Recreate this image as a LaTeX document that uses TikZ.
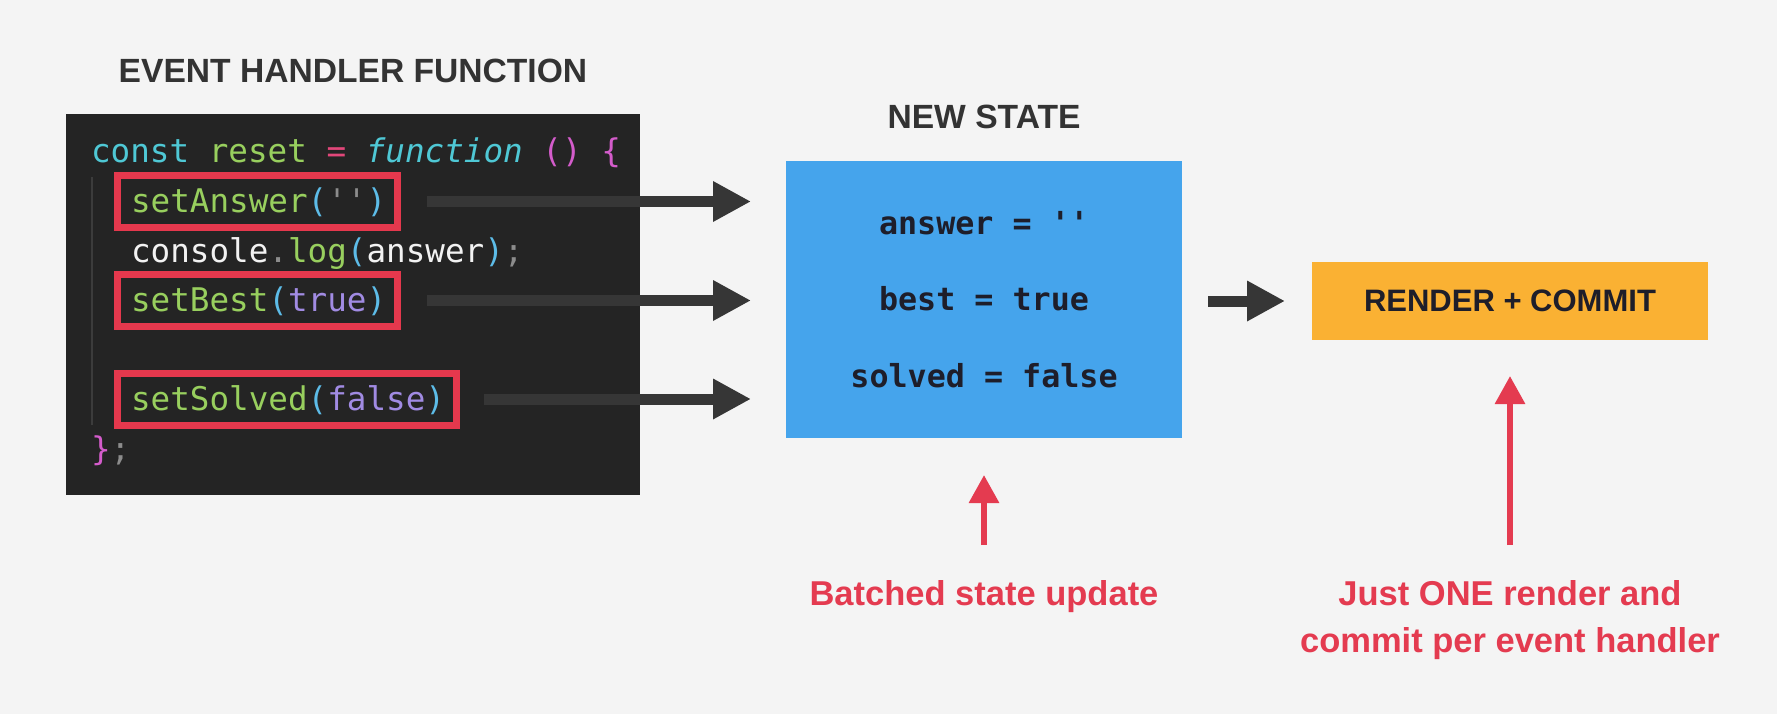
\documentclass[tikz,border=0pt]{standalone}
\usepackage{fontspec}
\setmainfont{Liberation Sans}
\newfontfamily\codefont{DejaVu Sans Mono}
\usetikzlibrary{arrows.meta}
\definecolor{bg}{HTML}{F4F4F4}
\definecolor{codebg}{HTML}{242424}
\definecolor{titlegray}{HTML}{333333}
\definecolor{redbox}{HTML}{E5384D}
\definecolor{darrow}{HTML}{363636}
\definecolor{stateblue}{HTML}{45A4EC}
\definecolor{orangebox}{HTML}{FAB133}
\definecolor{statetext}{HTML}{1E1E2A}
\definecolor{labelred}{HTML}{E43B50}
\definecolor{ccyan}{HTML}{4FC8D5}
\definecolor{cgreen}{HTML}{98CF5E}
\definecolor{cpink}{HTML}{E2477A}
\definecolor{cmag}{HTML}{D45CCB}
\definecolor{cparen}{HTML}{5DBCE8}
\definecolor{cpurple}{HTML}{A18BE3}
\definecolor{cgray}{HTML}{8C8C8C}
\definecolor{cwhite}{HTML}{F2F2F2}
\definecolor{guide}{HTML}{3C3C3C}
\begin{document}
\begin{tikzpicture}[x=1pt,y=-1pt,
  every node/.style={inner sep=0pt, outer sep=0pt},
  titletext/.style={font=\fontsize{33.6pt}{40pt}\selectfont\bfseries, text=titlegray, anchor=base},
  codeline/.style={font=\codefont\fontsize{32.6pt}{40pt}\selectfont, anchor=base west},
  redframe/.style={draw=redbox, line width=7pt, minimum height=52pt},
  darr/.style={draw=darrow, line width=11pt, -{Triangle[length=38pt,width=38pt]}},
  rarr/.style={draw=labelred, line width=6pt, -{Triangle[length=28pt,width=29pt]}},
  redlabel/.style={font=\fontsize{34.5pt}{47pt}\selectfont\bfseries, text=labelred, align=center, anchor=base}
]
\fill[bg] (0,0) rectangle (1777,714);
\useasboundingbox (0,0) rectangle (1777,714);

% title
\node[titletext] (title) at (353,83) {EVENT HANDLER FUNCTION};

% code box
\node[fill=codebg, minimum width=574pt, minimum height=381pt] (code) at (353,304.5) {};
\draw[guide, line width=1.5pt] (92,177) -- (92,425);

% red frames
\node[redframe, minimum width=280pt] (rb1) at (257.5,201.5) {};
\node[redframe, minimum width=280pt] (rb2) at (257.5,300.5) {};
\node[redframe, minimum width=339pt] (rb3) at (287,399) {};

% code lines
\node[codeline] (c1) at (91,163) {\textcolor{ccyan}{const} \textcolor{cgreen}{reset} \textcolor{cpink}{=} \textcolor{ccyan}{\itshape function} \textcolor{cmag}{()} \textcolor{cmag}{\{}};
\node[codeline] (c2) at (131,212.5) {\textcolor{cgreen}{setAnswer}\textcolor{cparen}{(}\textcolor{cgray}{\textquotesingle\textquotesingle}\textcolor{cparen}{)}};
\node[codeline] (c3) at (131,262) {\textcolor{cwhite}{console}\textcolor{cgray}{.}\textcolor{cgreen}{log}\textcolor{cparen}{(}\textcolor{cwhite}{answer}\textcolor{cparen}{)}\textcolor{cgray}{;}};
\node[codeline] (c4) at (131,311.5) {\textcolor{cgreen}{setBest}\textcolor{cparen}{(}\textcolor{cpurple}{true}\textcolor{cparen}{)}};
\node[codeline] (c6) at (131,410.5) {\textcolor{cgreen}{setSolved}\textcolor{cparen}{(}\textcolor{cpurple}{false}\textcolor{cparen}{)}};
\node[codeline] (c7) at (91,460) {\textcolor{cmag}{\}}\textcolor{cgray}{;}};

% new state
\node[titletext] (nstitle) at (984,129) {NEW STATE};
\node[fill=stateblue, minimum width=396pt, minimum height=277pt, align=center,
      font=\codefont\bfseries\fontsize{31.7pt}{76.5pt}\selectfont, text=statetext] (blue) at (984,299.5)
  {answer = \textquotesingle\textquotesingle\\best = true\\solved = false};

% render + commit
\node[fill=orangebox, minimum width=396pt, minimum height=78pt,
      font=\fontsize{31pt}{36pt}\selectfont\bfseries, text=statetext] (orange) at (1510,301) {RENDER + COMMIT};

% dark arrows
\draw[darr, shorten <=29pt, shorten >=35pt] (rb1.east) -- (rb1.east -| blue.west);
\draw[darr, shorten <=29pt, shorten >=35pt] (rb2.east) -- (rb2.east -| blue.west);
\draw[darr, shorten <=27pt, shorten >=35pt] (rb3.east) -- (rb3.east -| blue.west);
\draw[darr, shorten <=26pt, shorten >=27pt] (blue.east |- orange.west) -- (orange.west);

% red labels and arrows
\node[redlabel] (lab1) at (984,605) {Batched state update};
\node[redlabel] (lab2) at (1510,652) {Just ONE render and\\commit per event handler};
\coordinate (s1) at (984,545);
\coordinate (s2) at (1510,545);
\draw[rarr, shorten >=37pt] (s1) -- (s1 |- blue.south);
\draw[rarr, shorten >=36pt] (s2) -- (s2 |- orange.south);
\end{tikzpicture}
\end{document}
